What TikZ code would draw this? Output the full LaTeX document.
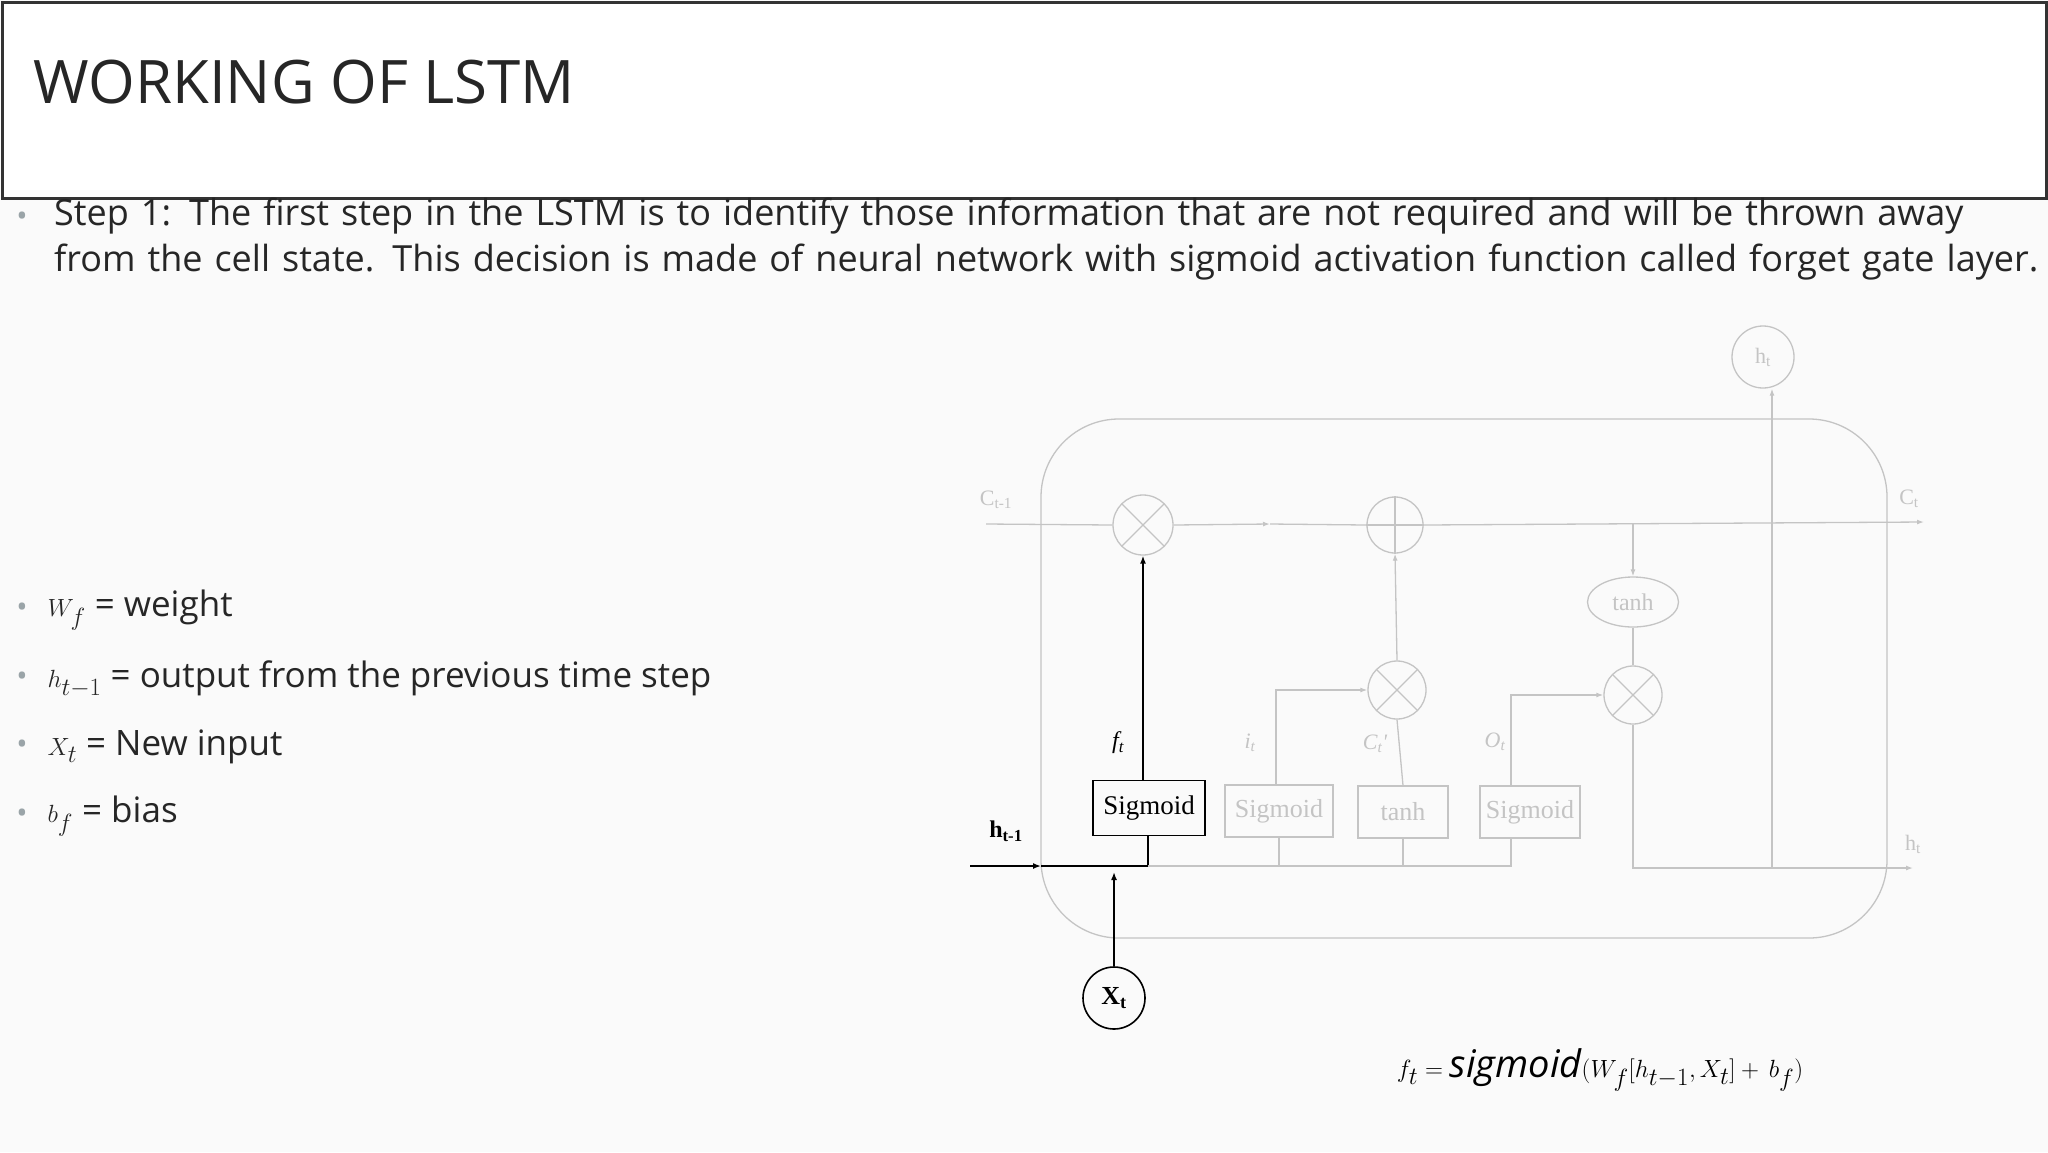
\documentclass[tikz,border=0pt]{standalone}
\usepackage{fontspec}
\setmainfont{Open Sans}
\newfontfamily\tms{Liberation Serif}
\usetikzlibrary{arrows.meta,shapes.geometric}
\definecolor{lg}{HTML}{C4C4C4}
\definecolor{bgc}{HTML}{FAFAFA}
\definecolor{bul}{HTML}{9AA4A8}
\begin{document}
\begin{tikzpicture}[x=1pt,y=-1pt,
  g/.style={draw=lg,line width=1.3pt},
  k/.style={draw=black,line width=1.5pt},
  gar/.style={g,-{Latex[length=7pt,width=5pt]}},
  kar/.style={k,-{Latex[length=8pt,width=6pt]}},
  mul/.style={circle,minimum size=60pt,inner sep=0pt,path picture={\draw[lg,line width=1.3pt] (path picture bounding box.north west)--(path picture bounding box.south east) (path picture bounding box.north east)--(path picture bounding box.south west);}},
  gbox/.style={g,minimum width=108pt,minimum height=52pt,font=\tms\fontsize{26}{26}\selectfont,text=lg},
  glab/.style={text=lg,font=\tms\fontsize{22}{22}\selectfont},
  bl/.style={anchor=west,font=\fontsize{35}{40}\selectfont}]
\fill[bgc] (0,0) rectangle (2048,1152);
\useasboundingbox (0,0) rectangle (2048,1152);
\node[draw=black!80,line width=2.5pt,fill=white,minimum width=2044pt,minimum height=196pt,anchor=north west] (tb) at (1,1) {};
\node[anchor=west,font=\fontsize{60}{60}\selectfont,text=black!85] (title) at (30,82) {WORKING OF LSTM};
\node[text width=1990pt,anchor=north west,font=\fontsize{36}{46}\selectfont,inner sep=0pt,text=black!85] (p) at (54,198) {Step 1: The first step in the LSTM is to identify those information that are not required and will be thrown away from the cell state. This decision is made of neural network with sigmoid activation function called forget gate layer.};
\node[text=bul,font=\fontsize{30}{30}\selectfont] (b0) at (22,219) {•};
\foreach \yy/\tt [count=\i] in {610/{$W_f$ = weight},679/{$h_{t-1}$ = output from the previous time step},747/{$X_t$ = New input},816/{$b_f$ = bias}}{
  \node[text=bul,font=\fontsize{30}{30}\selectfont] (bd\i) at (22,\yy) {•};
  \node[bl,text=black!85] (bt\i) at (44,\yy) {\tt};}
% diagram
\draw[g,rounded corners=78pt] (1041,419) rectangle (1887,938);
\node[mul,g] (m1) at (1143,525) {};
\node[circle,g,minimum size=56pt] (pl) at (1395,525) {};
\draw[g] (pl.north)--(pl.south) (pl.west)--(pl.east);
\node[mul,g,minimum size=58pt] (m2) at (1397,690) {};
\node[mul,g,minimum size=58pt] (m3) at (1633,695) {};
\node[ellipse,g,minimum width=91pt,minimum height=50pt,text=lg,font=\tms\fontsize{24}{24}\selectfont,inner sep=0pt] (th) at (1633,602) {tanh};
\node[draw=black,line width=1.8pt,minimum width=112pt,minimum height=55pt,font=\tms\fontsize{27}{27}\selectfont] (s1) at (1149,808) {Sigmoid};
\node[gbox] (s2) at (1279,811) {Sigmoid};
\node[gbox,minimum width=90pt] (tb2) at (1403,812) {tanh};
\node[gbox,minimum width=100pt] (s3) at (1530,812) {Sigmoid};
\node[circle,draw=black,line width=1.6pt,minimum size=62pt,font=\tms\fontsize{26}{26}\selectfont\bfseries] (xt) at (1114,998) {X\textsubscript{t}};
\node[circle,g,minimum size=62pt,text=lg,font=\tms\fontsize{22}{22}\selectfont] (ht) at (1763,357) {h\textsubscript{t}};
\node[glab] (cl) at (996,500) {C\textsubscript{t-1}};
\node[glab] (cr) at (1909,499) {C\textsubscript{t}};
\node[glab] (hr) at (1913,844) {h\textsubscript{t}};
\node[font=\tms\fontsize{24}{24}\selectfont\bfseries] (hl) at (1006,831) {h\textsubscript{t-1}};
\node[font=\tms\itshape\fontsize{24}{24}\selectfont] (fl) at (1118,743) {f\textsubscript{t}};
\node[glab,font=\tms\itshape\fontsize{22}{22}\selectfont] (il) at (1250,743) {i\textsubscript{t}};
\node[glab,font=\tms\itshape\fontsize{22}{22}\selectfont] (cpl) at (1375,744) {C\textsubscript{t}'};
\node[glab,font=\tms\itshape\fontsize{22}{22}\selectfont] (ol) at (1495,742) {O\textsubscript{t}};
\coordinate (c0) at (986,524); \coordinate (c1) at (1924,522);
\coordinate (cm) at (1270,524);
\draw[g] (c0)--(m1.west);
\draw[gar] (m1.east)--(cm);
\draw[g] (cm)--(pl.west);
\draw[gar] (pl.east)--(c1);
\draw[gar] (1633,523)--(th.north);
\draw[g] (th.south)--(m3.north);
\draw[gar] (m2.north)--(pl.south);
\draw[g] (tb2.north)--(m2.south);
\draw[gar] (s2.north -| 1276,0) |- (m2.west);
\draw[gar] (s3.north -| 1511,0) |- (m3.west);
\coordinate (h0) at (970,866); \coordinate (h1) at (1041,866);
\draw[kar] (h0)--(h1);
\draw[k] (h1)--(1148,866)--(s1.south -| 1148,0);
\draw[g] (1148,866)--(1511,866)--(s3.south -| 1511,0);
\draw[g] (1279,866)--(s2.south) (1403,866)--(tb2.south);
\draw[kar] (xt.north)--(1114,872);
\draw[kar] (s1.north -| m1.south)--(m1.south);
\coordinate (ho) at (1913,868);
\draw[gar] (m3.south)--(1633,868)--(ho);
\draw[gar] (1772,868)--(ht.south -| 1772,0);
\node[font=\fontsize{38}{38}\selectfont] (eq) at (1600,1070) {$f_t = \mathit{sigmoid}(W_f[h_{t-1},X_t] +\, b_f\big)$};
\end{tikzpicture}
\end{document}
